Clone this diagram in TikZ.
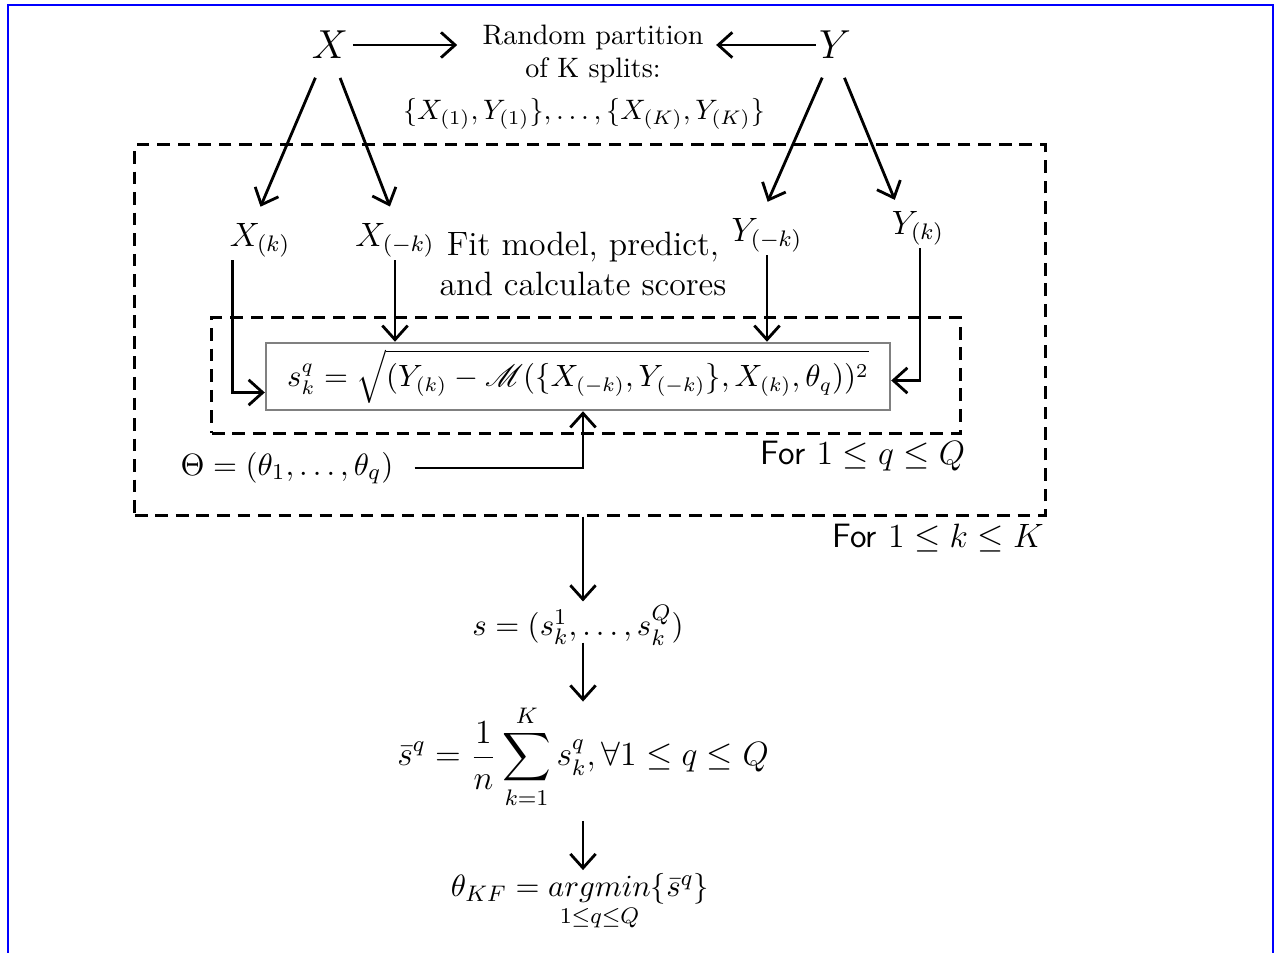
\documentclass[tikz,border=0pt]{standalone}
\usepackage{amsmath}
\usepackage{amssymb}
\usepackage{mathrsfs}
\usepackage{tikz}
\usetikzlibrary{arrows.meta,positioning,calc}

\begin{document}
\begin{tikzpicture}[x=0.0125cm, y=-0.0125cm,
    var/.style={inner sep=1pt, font=\large},
    formula/.style={inner sep=1pt, font=\fontsize{11}{13}\selectfont},
    loopbox/.style={draw, dashed, line width=1.1pt, dash pattern=on 4.5pt off 2.8pt},
    formbox/.style={draw=gray, line width=0.8pt, fill=white, minimum width=7.8cm, minimum height=0.84cm, inner sep=0pt, font=\fontsize{10.5}{13}\selectfont},
    arrow/.style={-{Straight Barb[length=5pt, width=9pt]}, line width=1pt},
    looplabel/.style={font=\large\sffamily}
  ]
    \useasboundingbox (0,0) rectangle (1276,953);
    \draw[blue, line width=0.8pt] (8,953) -- (8,5) -- (1273,5) -- (1273,953);

    % loops
    \node[loopbox, minimum width=11.375cm, minimum height=4.625cm] (kloop) at (590,330) {};
    \node[loopbox, minimum width=9.35cm, minimum height=1.44cm] (qloop) at (586,375.5) {};
    \node[looplabel] (qlab) at (863,456) {For $1\leq q\leq Q$};
    \node[looplabel] (klab) at (938,538) {For $1\leq k\leq K$};

    % data and splits
    \node[var, font=\Large] (x) at (330,45) {$X$};
    \node[var, font=\Large] (y) at (835,45) {$Y$};
    \node[align=center] (split) at (593,54) {Random partition\\of K splits:};
    \node (splitset) at (584,114) {$\{X_{(1)},Y_{(1)}\},\ldots,\{X_{(K)},Y_{(K)}\}$};
    \node[var] (xk)  at (260,240) {$X_{(k)}$};
    \node[var] (xmk) at (395,240) {$X_{(-k)}$};
    \node[var] (ymk) at (767,235) {$Y_{(-k)}$};
    \node[var] (yk)  at (918,228) {$Y_{(k)}$};
    \node[align=center, font=\large] (fit) at (583,264) {Fit model, predict,\\and calculate scores};

    % score box
    \node[formbox] (score) at (578,376.5) {$\displaystyle s_k^q=\sqrt{(Y_{(k)}-\mathscr{M}(\{X_{(-k)},Y_{(-k)}\},X_{(k)},\theta_q))^2}$\hspace{4pt}};
    \node[formula] (theta) at (287,468) {$\Theta=(\theta_1,\ldots,\theta_q)$};

    % aggregation
    \node[formula] (s)    at (578,625) {$s=(s_k^1,\ldots,s_k^Q)$};
    \node[formula, font=\large] (sbar) at (583,757) {$\displaystyle\bar{s}^q=\frac{1}{n}\sum_{k=1}^{K}s_k^q,\forall 1\leq q\leq Q$};
    \node[formula] (tkf)  at (580,902) {$\theta_{KF}=\underset{1\leq q\leq Q}{argmin}\{\bar{s}^q\}$};

    \draw[arrow, shorten <=0.5pt, shorten >=5.5pt] (x.east) -- (x.east -| split.west);
    \draw[arrow, shorten >=1pt] (y.west) -- (y.west -| split.east);
    \draw[arrow, shorten <=6pt, shorten >=5pt] ($(x.south)+(-8,0)$) -- ($(xk.north)+(-5,0)$);
    \draw[arrow, shorten <=6pt, shorten >=5pt] ($(x.south)+(4,0)$) -- (xmk.north);
    \draw[arrow, shorten <=6pt, shorten >=5pt] ($(y.south)+(-6,0)$) -- ($(ymk.north)+(-5,0)$);
    \draw[arrow, shorten <=6pt, shorten >=3pt] ($(y.south)+(3,0)$) -- ($(yk.north)+(-20,0)$);
    \draw[arrow] ($(xk.south west)+(6,0)$) |- ($(score.west)+(0,16)$);
    \draw[arrow] (xmk.south) -- (xmk.south |- score.north);
    \draw[arrow] (ymk.south) -- (ymk.south |- score.north);
    \draw[arrow] ($(yk.south)+(2,0)$) |- ($(score.east)+(0,4)$);
    \draw[arrow] ($(theta.east)+(18,0)$) -| ($(score.south)+(5,0)$);
    \draw[arrow] (kloop.south -| sbar) -- (s.north -| sbar);
    \draw[arrow] ($(s.south -| sbar)+(0,-6)$) -- (sbar.north);
    \draw[arrow, shorten <=3pt] (sbar.south) -- (sbar.south |- tkf.north);
  \end{tikzpicture}
\end{document}
